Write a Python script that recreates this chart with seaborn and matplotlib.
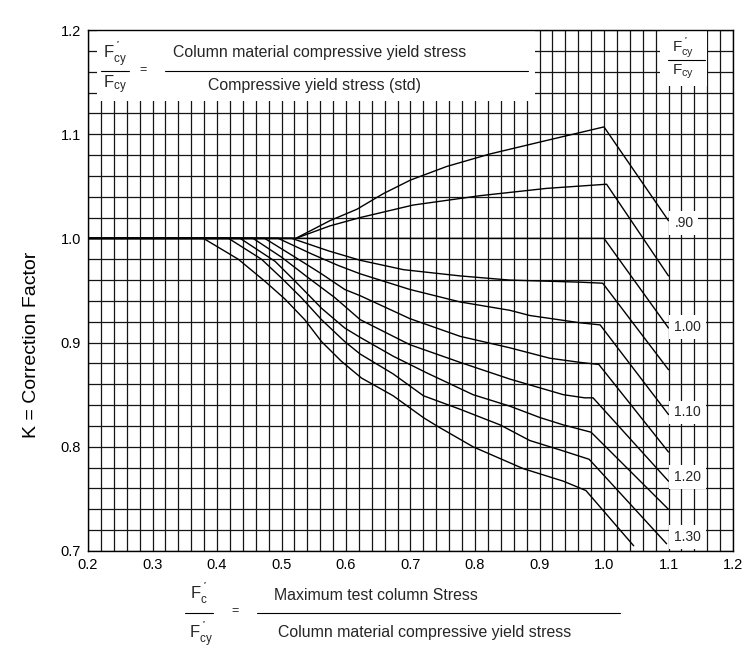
import matplotlib
matplotlib.use("Agg")
import matplotlib.pyplot as plt
from matplotlib.patches import Rectangle
from matplotlib.lines import Line2D
import seaborn as sns
import numpy as np
import pandas as pd


# Fcy'/Fcy ratio of each curve
ratios = ["0.90", "0.95", "1.00", "1.05", "1.10", "1.15", "1.20", "1.25", "1.30", "1.35"]

# Fc'/Fcy' (x) and K (y), one pair of lists per curve
x_090 = [0.20, 0.522, 0.575, 0.617, 0.658, 0.700, 0.756, 0.823, 0.911, 1.000, 1.100]
k_090 = [1.000, 1.000, 1.017, 1.028, 1.043, 1.056, 1.069, 1.081, 1.094, 1.107, 1.017]

x_095 = [0.20, 0.522, 0.575, 0.622, 0.704, 0.808, 0.911, 1.004, 1.100]
k_095 = [1.000, 1.000, 1.012, 1.020, 1.032, 1.041, 1.048, 1.052, 0.964]

x_100 = [0.20, 1.000, 1.100]
k_100 = [1.000, 1.000, 0.914]

x_105 = [0.20, 0.516, 0.573, 0.622, 0.689, 0.777, 0.854, 0.963, 0.998, 1.100]
k_105 = [1.000, 1.000, 0.988, 0.979, 0.970, 0.964, 0.960, 0.958, 0.957, 0.874]

x_110 = [0.20, 0.495, 0.547, 0.588, 0.622, 0.699, 0.777, 0.854, 0.885, 0.963, 0.994, 1.100]
k_110 = [1.000, 1.000, 0.985, 0.974, 0.966, 0.951, 0.939, 0.931, 0.926, 0.919, 0.917, 0.831]

x_115 = [0.20, 0.474, 0.521, 0.562, 0.598, 0.622, 0.699, 0.777, 0.854, 0.916, 0.963, 0.992, 1.100]
k_115 = [1.000, 1.000, 0.982, 0.966, 0.951, 0.945, 0.923, 0.906, 0.895, 0.885, 0.881, 0.879, 0.795]

x_120 = [0.20, 0.456, 0.500, 0.542, 0.583, 0.622, 0.699, 0.777, 0.854, 0.937, 0.970, 0.983, 1.100]
k_120 = [1.000, 1.000, 0.982, 0.962, 0.943, 0.922, 0.898, 0.881, 0.865, 0.850, 0.847, 0.847, 0.767]

x_125 = [0.20, 0.436, 0.490, 0.521, 0.562, 0.598, 0.622, 0.673, 0.725, 0.797, 0.854, 0.901, 0.937, 0.980, 1.100]
k_125 = [1.000, 1.000, 0.978, 0.959, 0.933, 0.914, 0.905, 0.887, 0.871, 0.850, 0.839, 0.828, 0.821, 0.814, 0.740]

x_130 = [0.20, 0.418, 0.469, 0.500, 0.531, 0.562, 0.598, 0.622, 0.673, 0.720, 0.777, 0.839, 0.885, 0.937, 0.977, 1.097]
k_130 = [1.000, 1.000, 0.980, 0.962, 0.943, 0.922, 0.901, 0.889, 0.870, 0.849, 0.836, 0.821, 0.806, 0.796, 0.788, 0.707]

x_135 = [0.20, 0.379, 0.433, 0.474, 0.505, 0.536, 0.562, 0.593, 0.624, 0.673, 0.720, 0.741, 0.797, 0.875, 0.937, 0.972, 1.046]
k_135 = [1.000, 1.000, 0.980, 0.959, 0.942, 0.922, 0.901, 0.882, 0.866, 0.849, 0.828, 0.820, 0.800, 0.779, 0.767, 0.758, 0.705]

# curve labels at the right and where they sit
curve_labels = [".90", "1.00", "1.10", "1.20", "1.30"]
label_pos = [1.015, 0.915, 0.833, 0.771, 0.7135]

xs = [x_090, x_095, x_100, x_105, x_110, x_115, x_120, x_125, x_130, x_135]
ks = [k_090, k_095, k_100, k_105, k_110, k_115, k_120, k_125, k_130, k_135]
df = pd.concat([pd.DataFrame({"x": x, "k": k, "ratio": r})
                for x, k, r in zip(xs, ks, ratios)], ignore_index=True)

sns.set_theme(style="white")
plt.rcParams["font.family"] = ["Liberation Sans", "DejaVu Sans"]
plt.rcParams["mathtext.fontset"] = "custom"
plt.rcParams["mathtext.rm"] = "Liberation Sans"
plt.rcParams["mathtext.it"] = "Liberation Sans:italic"
plt.rcParams["mathtext.bf"] = "Liberation Sans:bold"

W, H = 755, 658
fig = plt.figure(figsize=(W / 100, H / 100), dpi=100)
ax = fig.add_axes([88 / W, 107 / H, 645 / W, 521 / H])

sns.lineplot(data=df, x="x", y="k", hue="ratio", units="ratio",
             estimator=None, sort=False, palette=["black"] * len(ratios),
             legend=False, linewidth=1.0, ax=ax, zorder=3)

ax.set_xlim(0.2, 1.2)
ax.set_ylim(0.7, 1.2)
ax.set_xticks(np.round(np.arange(0.2, 1.201, 0.1), 1))
ax.set_xticks(np.arange(0.2, 1.2001, 0.02), minor=True)
ax.set_yticks(np.round(np.arange(0.7, 1.201, 0.1), 1))
ax.set_yticks(np.arange(0.7, 1.2001, 0.02), minor=True)
ax.set_xticklabels([f"{v:.1f}" for v in np.arange(0.2, 1.201, 0.1)])
ax.set_yticklabels([f"{v:.1f}" for v in np.arange(0.7, 1.201, 0.1)])
ax.set_axisbelow(True)
ax.grid(which="both", color="#151515", linewidth=0.9)
ax.tick_params(which="both", length=0, labelsize=10.5, pad=5, colors="black")
for s in ax.spines.values():
    s.set_color("black")
    s.set_linewidth(1.0)

ax.set_xlabel("")
ax.set_ylabel("K = Correction Factor", fontsize=14, color="black")
ax.yaxis.set_label_coords(-0.074, 0.395)


# text placed in figure pixels (origin top left of the picture)
def ftext(px, py, s, **kw):
    kw.setdefault("ha", "center")
    kw.setdefault("va", "center")
    fig.text(px / W, 1 - py / H, s, zorder=5, **kw)


def fline(px0, px1, py):
    fig.add_artist(Line2D([px0 / W, px1 / W], [1 - py / H, 1 - py / H],
                          transform=fig.transFigure, color="black", lw=0.8,
                          zorder=5))


def fvar(px, py, sub, prime, size=12):
    # F with subscript and, if asked, the heavy prime tick; px, py = left, baseline
    if prime:
        s = r"$\mathrm{F}^{\;\mathbf{'}}_{\mathrm{%s}}$" % sub
    else:
        s = r"$\mathrm{F}_{\mathrm{%s}}$" % sub
    ftext(px, py, s, fontsize=size, ha="left", va="baseline")


# formula box, top left
ax.add_patch(Rectangle((0.214, 1.132), 0.893 - 0.214, 1.2 - 1.132,
                       facecolor="white", edgecolor="none", zorder=1))
fvar(103, 58, "cy", True)
fline(101, 129, 70.7)
fvar(103, 88, "cy", False)
ftext(143, 70, "=", fontsize=9)
ftext(320, 52, "Column material compressive yield stress", fontsize=11.4)
fline(165, 528, 70.7)
ftext(315, 85.5, "Compressive yield stress (std)", fontsize=11.4)

# ratio header, top right
ax.add_patch(Rectangle((1.0868, 1.1459), 1.1597 - 1.0868, 1.2 - 1.1459,
                       facecolor="white", edgecolor="none", zorder=1))
fvar(672, 51.5, "cy", True, size=11)
fline(668, 705, 60)
fvar(672, 75, "cy", False, size=11)

for lab, yv in zip(curve_labels, label_pos):
    ax.text(1.109, yv, lab, fontsize=10, ha="left", va="center", zorder=4,
            bbox=dict(facecolor="white", edgecolor="none", pad=3.5))

# bottom formula
fvar(190, 599, "c", True)
fline(185, 213, 613)
fvar(189, 638, "cy", True)
ftext(235, 611, "=", fontsize=9)
ftext(376, 595, "Maximum test column Stress", fontsize=11.4)
fline(257, 620, 613)
ftext(425, 633, "Column material compressive yield stress", fontsize=11.4)

fig.savefig("out.png", dpi=100)
